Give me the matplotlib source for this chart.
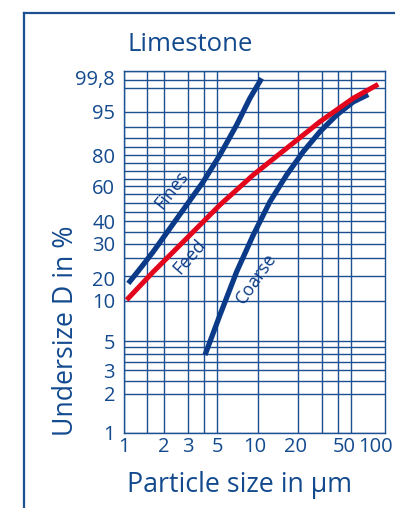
import numpy as np
import matplotlib
matplotlib.use("Agg")
import matplotlib.pyplot as plt
from matplotlib.lines import Line2D

plt.rcParams['font.family'] = ['Open Sans', 'DejaVu Sans']

# ---------------- data ----------------
title = "Limestone"
x_label = "Particle size in µm"
y_label = "Undersize D in %"

fines_x = [1.086, 1.40, 1.668, 2.221, 2.958, 3.932, 5.236, 6.973, 8.76, 10.71]
fines_y = [13.3, 18.0, 22.2, 31.6, 43.7, 58.0, 75.2, 90.7, 97.8, 99.56]

feed_x = [1.056, 1.668, 2.958, 5.236, 9.27, 16.45, 29.1, 51.6, 79.2]
feed_y = [10.1, 16.1, 27.2, 43.7, 62.4, 79.2, 91.9, 97.8, 99.24]

coarse_x = [4.05, 5.236, 6.973, 9.27, 12.35, 16.45, 21.87, 29.1, 38.8, 51.6, 66.7]
coarse_y = [3.93, 7.83, 16.1, 28.6, 45.6, 62.4, 77.2, 87.8, 94.1, 97.2, 98.3]

x_grid = [1, 1.5, 2, 3, 4, 5, 10, 20, 30, 40, 50]
y_grid = [1, 2, 2.5, 3, 3.5, 4, 4.5, 5, 10, 15, 20, 25, 30, 35, 40, 45, 50,
          55, 60, 65, 70, 75, 80, 85, 90, 95, 99, 99.5, 99.8]

x_tick_labels = ["1", "2", "3", "5", "10", "20", "50", "100"]
x_tick_at = [1, 2, 3, 5, 9.5, 19, 44, 76]
y_tick_labels = ["1", "2", "3", "5", "10", "20", "30", "40", "60", "80", "95", "99,8"]
y_tick_at = [1, 2, 3, 5, 10, 14.5, 25, 35, 55, 75, 95, 99.6]

# ---------------- style ----------------
TXT = "#134a8e"
GRID = "#1d4f93"
NAVY = "#0b3b88"
RED = "#e3051b"


def fwd(p):
    p = np.clip(np.asarray(p, dtype=float), 1e-9, 100 - 1e-9)
    return np.log(-np.log(1 - p / 100.0))


def inv(u):
    u = np.asarray(u, dtype=float)
    return 100.0 * (1 - np.exp(-np.exp(u)))


W, H = 395, 508
fig = plt.figure(figsize=(W / 100, H / 100), dpi=100)
fig.patch.set_facecolor("white")

# outer frame (top + left)
fig.add_artist(Line2D([24 / W, 24 / W], [0, 1 - 12.5 / H], transform=fig.transFigure,
                      color=GRID, lw=1.6))
fig.add_artist(Line2D([24 / W, 1.0], [1 - 12.5 / H, 1 - 12.5 / H], transform=fig.transFigure,
                      color=GRID, lw=1.6))

L, R, T, B = 123.5, 385, 70.7, 433
ax = fig.add_axes([L / W, 1 - B / H, (R - L) / W, (B - T) / H])
ax.set_xscale("log")
ax.set_yscale("function", functions=(fwd, inv))
ax.set_xlim(1, 89)
ax.set_ylim(1, 99.8)

for gx in x_grid:
    ax.axvline(gx, color=GRID, lw=1.0, zorder=1)
for gy in y_grid:
    ax.axhline(gy, color=GRID, lw=1.0, zorder=1)

ax.plot(fines_x, fines_y, color=NAVY, lw=3.8, solid_capstyle="butt",
        solid_joinstyle="round", zorder=3)
ax.plot(coarse_x, coarse_y, color=NAVY, lw=3.8, solid_capstyle="butt",
        solid_joinstyle="round", zorder=3)
ax.plot(feed_x, feed_y, color=RED, lw=3.6, solid_capstyle="butt",
        solid_joinstyle="round", zorder=4)

ax.set_xticks(x_tick_at)
ax.set_xticklabels(x_tick_labels)
ax.set_xticks([], minor=True)
ax.set_yticks(y_tick_at)
ax.set_yticklabels(y_tick_labels)
ax.set_yticks([], minor=True)
ax.tick_params(axis="both", length=0, labelsize=14.5, labelcolor=TXT)
ax.tick_params(axis="y", pad=6)
ax.tick_params(axis="x", pad=3)

for s in ax.spines.values():
    s.set_color(GRID)
    s.set_linewidth(1.0)

# curve names
ax.text(0.182, 0.670, "Fines", transform=ax.transAxes, rotation=52, color=NAVY,
        fontsize=12.8, ha="center", va="center")
ax.text(0.254, 0.488, "Feed", transform=ax.transAxes, rotation=49, color=NAVY,
        fontsize=12.8, ha="center", va="center")
ax.text(0.509, 0.427, "Coarse", transform=ax.transAxes, rotation=55, color=NAVY,
        fontsize=12.8, ha="center", va="center")

fig.text(127 / W, 1 - 51 / H, title, color=TXT, fontsize=18.5, ha="left", va="baseline")
fig.text(239.5 / W, 1 - 491.7 / H, x_label, color=TXT, fontsize=19.3, ha="center", va="baseline")
fig.text(66 / W, 1 - 331 / H, y_label, color=TXT, fontsize=19.3, rotation=90,
         ha="center", va="center")

fig.savefig("out.png", dpi=100, facecolor="white")
